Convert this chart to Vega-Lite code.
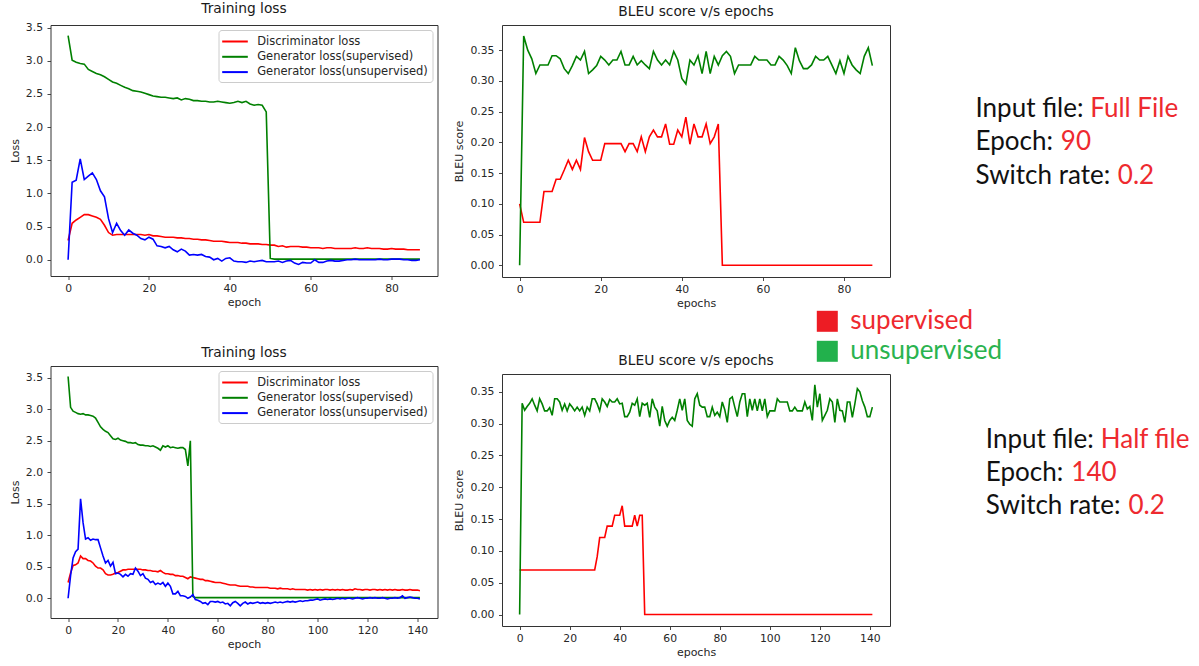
{
"$schema":"https://vega.github.io/schema/vega-lite/v6.json",
"background":"white",
"padding":{"left":8.5,"top":1,"right":0,"bottom":0},
"datasets":{
"tl":[
{"e":0,"d":0.29,"g":3.38,"u":0},{"e":1,"d":0.55,"g":3.01,"u":1.17},{"e":2,"d":0.6,"g":2.98,"u":1.2},{"e":3,"d":0.64,"g":2.96,"u":1.52},{"e":4,"d":0.68,"g":2.95,"u":1.21},{"e":5,"d":0.68,"g":2.87,"u":1.26},{"e":6,"d":0.66,"g":2.84,"u":1.31},{"e":7,"d":0.64,"g":2.81,"u":1.21},{"e":8,"d":0.61,"g":2.79,"u":1.04},{"e":9,"d":0.52,"g":2.76,"u":0.95},
{"e":10,"d":0.41,"g":2.72,"u":0.62},{"e":11,"d":0.37,"g":2.68,"u":0.41},{"e":12,"d":0.38,"g":2.66,"u":0.55},{"e":13,"d":0.38,"g":2.63,"u":0.44},{"e":14,"d":0.38,"g":2.6,"u":0.37},{"e":15,"d":0.38,"g":2.58,"u":0.45},{"e":16,"d":0.38,"g":2.55,"u":0.4},{"e":17,"d":0.38,"g":2.54,"u":0.37},{"e":18,"d":0.38,"g":2.53,"u":0.32},{"e":19,"d":0.37,"g":2.51,"u":0.3},
{"e":20,"d":0.38,"g":2.49,"u":0.34},{"e":21,"d":0.36,"g":2.47,"u":0.31},{"e":22,"d":0.36,"g":2.46,"u":0.21},{"e":23,"d":0.35,"g":2.45,"u":0.2},{"e":24,"d":0.34,"g":2.45,"u":0.18},{"e":25,"d":0.34,"g":2.44,"u":0.2},{"e":26,"d":0.34,"g":2.43,"u":0.15},{"e":27,"d":0.33,"g":2.44,"u":0.12},{"e":28,"d":0.33,"g":2.41,"u":0.16},{"e":29,"d":0.32,"g":2.43,"u":0.13},
{"e":30,"d":0.32,"g":2.42,"u":0.07},{"e":31,"d":0.31,"g":2.4,"u":0.08},{"e":32,"d":0.31,"g":2.4,"u":0.07},{"e":33,"d":0.3,"g":2.39,"u":0.08},{"e":34,"d":0.3,"g":2.39,"u":0.05},{"e":35,"d":0.29,"g":2.38,"u":0.04},{"e":36,"d":0.28,"g":2.38,"u":0},{"e":37,"d":0.28,"g":2.39,"u":0.02},{"e":38,"d":0.28,"g":2.38,"u":-0.02},{"e":39,"d":0.27,"g":2.37,"u":0.02},
{"e":40,"d":0.26,"g":2.36,"u":0.03},{"e":41,"d":0.26,"g":2.37,"u":-0.02},{"e":42,"d":0.26,"g":2.39,"u":-0.03},{"e":43,"d":0.25,"g":2.37,"u":-0.03},{"e":44,"d":0.25,"g":2.39,"u":-0.04},{"e":45,"d":0.24,"g":2.35,"u":-0.02},{"e":46,"d":0.24,"g":2.33,"u":-0.03},{"e":47,"d":0.24,"g":2.34,"u":-0.02},{"e":48,"d":0.23,"g":2.33,"u":-0.01},{"e":49,"d":0.23,"g":2.23,"u":-0.03},
{"e":50,"d":0.22,"g":0.02,"u":-0.03},{"e":51,"d":0.22,"g":0.01,"u":-0.03},{"e":52,"d":0.2,"g":0.01,"u":-0.02},{"e":53,"d":0.21,"g":0.01,"u":-0.04},{"e":54,"d":0.19,"g":0.01,"u":-0.02},{"e":55,"d":0.2,"g":0.01,"u":-0.01},{"e":56,"d":0.2,"g":0.01,"u":-0.05},{"e":57,"d":0.2,"g":0.01,"u":-0.07},{"e":58,"d":0.19,"g":0.01,"u":-0.04},{"e":59,"d":0.19,"g":0.01,"u":-0.05},
{"e":60,"d":0.18,"g":0.01,"u":-0.05},{"e":61,"d":0.18,"g":0.01,"u":0},{"e":62,"d":0.18,"g":0.01,"u":-0.04},{"e":63,"d":0.17,"g":0.01,"u":-0.04},{"e":64,"d":0.18,"g":0.01,"u":-0.02},{"e":65,"d":0.18,"g":0.01,"u":-0.01},{"e":66,"d":0.17,"g":0.01,"u":-0.02},{"e":67,"d":0.17,"g":0.01,"u":-0.02},{"e":68,"d":0.17,"g":0.01,"u":-0.01},{"e":69,"d":0.17,"g":0.01,"u":0},
{"e":70,"d":0.17,"g":0.01,"u":0},{"e":71,"d":0.18,"g":0.01,"u":0.01},{"e":72,"d":0.17,"g":0.01,"u":0},{"e":73,"d":0.17,"g":0.01,"u":0},{"e":74,"d":0.18,"g":0.01,"u":0},{"e":75,"d":0.17,"g":0.01,"u":0},{"e":76,"d":0.17,"g":0.01,"u":0},{"e":77,"d":0.17,"g":0.01,"u":0.01},{"e":78,"d":0.16,"g":0.01,"u":0},{"e":79,"d":0.16,"g":0.01,"u":0},
{"e":80,"d":0.17,"g":0.01,"u":0.01},{"e":81,"d":0.16,"g":0.01,"u":0.01},{"e":82,"d":0.16,"g":0.01,"u":0.01},{"e":83,"d":0.16,"g":0.01,"u":0},{"e":84,"d":0.15,"g":0.01,"u":0},{"e":85,"d":0.15,"g":0.01,"u":-0.01},{"e":86,"d":0.15,"g":0.01,"u":-0.01},{"e":87,"d":0.15,"g":0.01,"u":0}
],
"tr":[
{"e":0,"s":0.1,"u":0},{"e":1,"s":0.07,"u":0.373},{"e":2,"s":0.07,"u":0.35},{"e":3,"s":0.07,"u":0.336},{"e":4,"s":0.07,"u":0.312},{"e":5,"s":0.07,"u":0.326},{"e":6,"s":0.12,"u":0.326},{"e":7,"s":0.12,"u":0.326},{"e":8,"s":0.12,"u":0.341},{"e":9,"s":0.14,"u":0.341},
{"e":10,"s":0.14,"u":0.336},{"e":11,"s":0.155,"u":0.32},{"e":12,"s":0.171,"u":0.312},{"e":13,"s":0.156,"u":0.325},{"e":14,"s":0.171,"u":0.34},{"e":15,"s":0.156,"u":0.334},{"e":16,"s":0.208,"u":0.348},{"e":17,"s":0.185,"u":0.312},{"e":18,"s":0.171,"u":0.318},{"e":19,"s":0.171,"u":0.325},
{"e":20,"s":0.171,"u":0.34},{"e":21,"s":0.198,"u":0.334},{"e":22,"s":0.198,"u":0.326},{"e":23,"s":0.198,"u":0.334},{"e":24,"s":0.198,"u":0.334},{"e":25,"s":0.198,"u":0.348},{"e":26,"s":0.185,"u":0.326},{"e":27,"s":0.198,"u":0.326},{"e":28,"s":0.198,"u":0.34},{"e":29,"s":0.185,"u":0.326},
{"e":30,"s":0.209,"u":0.333},{"e":31,"s":0.185,"u":0.326},{"e":32,"s":0.209,"u":0.32},{"e":33,"s":0.22,"u":0.348},{"e":34,"s":0.209,"u":0.334},{"e":35,"s":0.209,"u":0.326},{"e":36,"s":0.23,"u":0.334},{"e":37,"s":0.197,"u":0.326},{"e":38,"s":0.197,"u":0.348},{"e":39,"s":0.22,"u":0.334},
{"e":40,"s":0.209,"u":0.304},{"e":41,"s":0.241,"u":0.295},{"e":42,"s":0.197,"u":0.334},{"e":43,"s":0.23,"u":0.326},{"e":44,"s":0.209,"u":0.341},{"e":45,"s":0.209,"u":0.312},{"e":46,"s":0.23,"u":0.348},{"e":47,"s":0.198,"u":0.312},{"e":48,"s":0.209,"u":0.34},{"e":49,"s":0.23,"u":0.326},
{"e":50,"s":0,"u":0.341},{"e":51,"s":0,"u":0.348},{"e":52,"s":0,"u":0.34},{"e":53,"s":0,"u":0.312},{"e":54,"s":0,"u":0.326},{"e":55,"s":0,"u":0.326},{"e":56,"s":0,"u":0.326},{"e":57,"s":0,"u":0.326},{"e":58,"s":0,"u":0.34},{"e":59,"s":0,"u":0.334},
{"e":60,"s":0,"u":0.334},{"e":61,"s":0,"u":0.334},{"e":62,"s":0,"u":0.326},{"e":63,"s":0,"u":0.326},{"e":64,"s":0,"u":0.34},{"e":65,"s":0,"u":0.334},{"e":66,"s":0,"u":0.325},{"e":67,"s":0,"u":0.312},{"e":68,"s":0,"u":0.354},{"e":69,"s":0,"u":0.333},
{"e":70,"s":0,"u":0.32},{"e":71,"s":0,"u":0.32},{"e":72,"s":0,"u":0.326},{"e":73,"s":0,"u":0.34},{"e":74,"s":0,"u":0.334},{"e":75,"s":0,"u":0.334},{"e":76,"s":0,"u":0.34},{"e":77,"s":0,"u":0.326},{"e":78,"s":0,"u":0.312},{"e":79,"s":0,"u":0.333},
{"e":80,"s":0,"u":0.312},{"e":81,"s":0,"u":0.34},{"e":82,"s":0,"u":0.326},{"e":83,"s":0,"u":0.318},{"e":84,"s":0,"u":0.312},{"e":85,"s":0,"u":0.34},{"e":86,"s":0,"u":0.354},{"e":87,"s":0,"u":0.325}
],
"bl":[
{"e":0,"d":0.25,"g":3.52,"u":0},{"e":1,"d":0.4,"g":3.03,"u":0.36},{"e":2,"d":0.52,"g":2.97,"u":0.64},{"e":3,"d":0.53,"g":2.95,"u":0.74},{"e":4,"d":0.56,"g":2.93,"u":0.78},{"e":5,"d":0.67,"g":2.92,"u":1.58},{"e":6,"d":0.63,"g":2.93,"u":1.2},{"e":7,"d":0.63,"g":2.91,"u":0.94},{"e":8,"d":0.6,"g":2.91,"u":0.96},{"e":9,"d":0.59,"g":2.9,"u":0.92},
{"e":10,"d":0.56,"g":2.89,"u":0.94},{"e":11,"d":0.51,"g":2.86,"u":0.93},{"e":12,"d":0.48,"g":2.79,"u":0.93},{"e":13,"d":0.48,"g":2.72,"u":0.8},{"e":14,"d":0.45,"g":2.68,"u":0.67},{"e":15,"d":0.39,"g":2.65,"u":0.56},{"e":16,"d":0.37,"g":2.63,"u":0.6},{"e":17,"d":0.37,"g":2.58,"u":0.51},{"e":18,"d":0.38,"g":2.53,"u":0.57},{"e":19,"d":0.4,"g":2.52,"u":0.39},
{"e":20,"d":0.41,"g":2.54,"u":0.4},{"e":21,"d":0.43,"g":2.51,"u":0.38},{"e":22,"d":0.45,"g":2.5,"u":0.34},{"e":23,"d":0.45,"g":2.49,"u":0.38},{"e":24,"d":0.46,"g":2.47,"u":0.35},{"e":25,"d":0.46,"g":2.47,"u":0.39},{"e":26,"d":0.46,"g":2.46,"u":0.38},{"e":27,"d":0.46,"g":2.47,"u":0.48},{"e":28,"d":0.46,"g":2.44,"u":0.43},{"e":29,"d":0.46,"g":2.43,"u":0.36},
{"e":30,"d":0.45,"g":2.43,"u":0.39},{"e":31,"d":0.45,"g":2.42,"u":0.32},{"e":32,"d":0.44,"g":2.42,"u":0.3},{"e":33,"d":0.44,"g":2.41,"u":0.25},{"e":34,"d":0.43,"g":2.42,"u":0.27},{"e":35,"d":0.43,"g":2.4,"u":0.22},{"e":36,"d":0.42,"g":2.38,"u":0.24},{"e":37,"d":0.44,"g":2.35,"u":0.22},{"e":38,"d":0.41,"g":2.42,"u":0.25},{"e":39,"d":0.39,"g":2.4,"u":0.19},
{"e":40,"d":0.39,"g":2.42,"u":0.24},{"e":41,"d":0.38,"g":2.39,"u":0.19},{"e":42,"d":0.38,"g":2.4,"u":0.07},{"e":43,"d":0.36,"g":2.39,"u":0.07},{"e":44,"d":0.36,"g":2.38,"u":0.11},{"e":45,"d":0.35,"g":2.39,"u":0.04},{"e":46,"d":0.35,"g":2.39,"u":0.04},{"e":47,"d":0.33,"g":2.36,"u":0.03},{"e":48,"d":0.31,"g":2.1,"u":0},{"e":49,"d":0.34,"g":2.5,"u":0.02},
{"e":50,"d":0.33,"g":0.03,"u":0.06},{"e":51,"d":0.32,"g":0.01,"u":-0.02},{"e":52,"d":0.31,"g":0.01,"u":-0.03},{"e":53,"d":0.3,"g":0.01,"u":-0.05},{"e":54,"d":0.3,"g":0.01,"u":-0.08},{"e":55,"d":0.28,"g":0.01,"u":-0.07},{"e":56,"d":0.28,"g":0.01,"u":-0.1},{"e":57,"d":0.27,"g":0.01,"u":-0.05},{"e":58,"d":0.26,"g":0.01,"u":-0.05},{"e":59,"d":0.25,"g":0.01,"u":-0.06},
{"e":60,"d":0.25,"g":0.01,"u":-0.05},{"e":61,"d":0.25,"g":0.01,"u":-0.07},{"e":62,"d":0.24,"g":0.01,"u":-0.06},{"e":63,"d":0.23,"g":0.01,"u":-0.09},{"e":64,"d":0.22,"g":0.01,"u":-0.08},{"e":65,"d":0.21,"g":0.01,"u":-0.12},{"e":66,"d":0.21,"g":0.01,"u":-0.07},{"e":67,"d":0.21,"g":0.01,"u":-0.05},{"e":68,"d":0.2,"g":0.01,"u":-0.08},{"e":69,"d":0.19,"g":0.01,"u":-0.12},
{"e":70,"d":0.19,"g":0.01,"u":-0.08},{"e":71,"d":0.19,"g":0.01,"u":-0.06},{"e":72,"d":0.19,"g":0.01,"u":-0.09},{"e":73,"d":0.18,"g":0.01,"u":-0.07},{"e":74,"d":0.18,"g":0.01,"u":-0.08},{"e":75,"d":0.17,"g":0.01,"u":-0.07},{"e":76,"d":0.17,"g":0.01,"u":-0.06},{"e":77,"d":0.17,"g":0.01,"u":-0.08},{"e":78,"d":0.17,"g":0.01,"u":-0.07},{"e":79,"d":0.17,"g":0.01,"u":-0.08},
{"e":80,"d":0.17,"g":0.01,"u":-0.07},{"e":81,"d":0.16,"g":0.01,"u":-0.08},{"e":82,"d":0.16,"g":0.01,"u":-0.07},{"e":83,"d":0.16,"g":0.01,"u":-0.06},{"e":84,"d":0.15,"g":0.01,"u":-0.07},{"e":85,"d":0.16,"g":0.01,"u":-0.06},{"e":86,"d":0.15,"g":0.01,"u":-0.07},{"e":87,"d":0.15,"g":0.01,"u":-0.06},{"e":88,"d":0.15,"g":0.01,"u":-0.05},{"e":89,"d":0.14,"g":0.01,"u":-0.06},
{"e":90,"d":0.15,"g":0.01,"u":-0.05},{"e":91,"d":0.14,"g":0.01,"u":-0.06},{"e":92,"d":0.14,"g":0.01,"u":-0.05},{"e":93,"d":0.14,"g":0.01,"u":-0.04},{"e":94,"d":0.14,"g":0.01,"u":-0.05},{"e":95,"d":0.14,"g":0.01,"u":-0.04},{"e":96,"d":0.13,"g":0.01,"u":-0.04},{"e":97,"d":0.14,"g":0.01,"u":-0.03},{"e":98,"d":0.13,"g":0.01,"u":-0.03},{"e":99,"d":0.14,"g":0.01,"u":-0.02},
{"e":100,"d":0.13,"g":0.01,"u":-0.01},{"e":101,"d":0.14,"g":0.01,"u":-0.03},{"e":102,"d":0.13,"g":0.01,"u":-0.02},{"e":103,"d":0.14,"g":0.01,"u":-0.01},{"e":104,"d":0.14,"g":0.01,"u":-0.02},{"e":105,"d":0.13,"g":0.01,"u":-0.01},{"e":106,"d":0.14,"g":0.01,"u":-0.02},{"e":107,"d":0.13,"g":0.01,"u":-0.01},{"e":108,"d":0.14,"g":0.01,"u":0},{"e":109,"d":0.13,"g":0.01,"u":-0.01},
{"e":110,"d":0.14,"g":0.01,"u":0},{"e":111,"d":0.13,"g":0.01,"u":-0.01},{"e":112,"d":0.13,"g":0.01,"u":0},{"e":113,"d":0.14,"g":0.01,"u":0},{"e":114,"d":0.13,"g":0.01,"u":-0.01},{"e":115,"d":0.15,"g":0.01,"u":0},{"e":116,"d":0.14,"g":0.01,"u":0.01},{"e":117,"d":0.14,"g":0.01,"u":0},{"e":118,"d":0.13,"g":0.01,"u":-0.01},{"e":119,"d":0.14,"g":0.01,"u":0},
{"e":120,"d":0.14,"g":0.01,"u":0},{"e":121,"d":0.13,"g":0.01,"u":0.01},{"e":122,"d":0.14,"g":0.01,"u":0},{"e":123,"d":0.14,"g":0.01,"u":0.01},{"e":124,"d":0.13,"g":0.01,"u":0},{"e":125,"d":0.14,"g":0.01,"u":0},{"e":126,"d":0.13,"g":0.01,"u":0.01},{"e":127,"d":0.14,"g":0.01,"u":0},{"e":128,"d":0.13,"g":0.01,"u":-0.01},{"e":129,"d":0.14,"g":0.01,"u":0},
{"e":130,"d":0.13,"g":0.01,"u":0},{"e":131,"d":0.14,"g":0.01,"u":0.01},{"e":132,"d":0.13,"g":0.01,"u":0},{"e":133,"d":0.13,"g":0.01,"u":0.01},{"e":134,"d":0.14,"g":0.01,"u":0.04},{"e":135,"d":0.13,"g":0.01,"u":0},{"e":136,"d":0.13,"g":0.01,"u":0.01},{"e":137,"d":0.14,"g":0.01,"u":0.02},{"e":138,"d":0.13,"g":0.01,"u":0.01},{"e":139,"d":0.13,"g":0.01,"u":0},
{"e":140,"d":0.13,"g":0.01,"u":0},{"e":141,"d":0.12,"g":0.01,"u":-0.01}
],
"br":[
{"e":0,"s":0.07,"u":0},{"e":1,"s":0.07,"u":0.332},{"e":2,"s":0.07,"u":0.321},{"e":3,"s":0.07,"u":0.327},{"e":4,"s":0.07,"u":0.332},{"e":5,"s":0.07,"u":0.339},{"e":6,"s":0.07,"u":0.329},{"e":7,"s":0.07,"u":0.32},{"e":8,"s":0.07,"u":0.339},{"e":9,"s":0.07,"u":0.331},
{"e":10,"s":0.07,"u":0.32},{"e":11,"s":0.07,"u":0.32},{"e":12,"s":0.07,"u":0.325},{"e":13,"s":0.07,"u":0.313},{"e":14,"s":0.07,"u":0.339},{"e":15,"s":0.07,"u":0.339},{"e":16,"s":0.07,"u":0.334},{"e":17,"s":0.07,"u":0.321},{"e":18,"s":0.07,"u":0.331},{"e":19,"s":0.07,"u":0.32},
{"e":20,"s":0.07,"u":0.331},{"e":21,"s":0.07,"u":0.326},{"e":22,"s":0.07,"u":0.32},{"e":23,"s":0.07,"u":0.326},{"e":24,"s":0.07,"u":0.32},{"e":25,"s":0.07,"u":0.326},{"e":26,"s":0.07,"u":0.313},{"e":27,"s":0.07,"u":0.326},{"e":28,"s":0.07,"u":0.32},{"e":29,"s":0.07,"u":0.339},
{"e":30,"s":0.07,"u":0.339},{"e":31,"s":0.091,"u":0.331},{"e":32,"s":0.121,"u":0.32},{"e":33,"s":0.121,"u":0.339},{"e":34,"s":0.121,"u":0.334},{"e":35,"s":0.139,"u":0.327},{"e":36,"s":0.139,"u":0.338},{"e":37,"s":0.139,"u":0.334},{"e":38,"s":0.156,"u":0.334},{"e":39,"s":0.156,"u":0.339},
{"e":40,"s":0.156,"u":0.331},{"e":41,"s":0.171,"u":0.332},{"e":42,"s":0.139,"u":0.311},{"e":43,"s":0.139,"u":0.311},{"e":44,"s":0.139,"u":0.318},{"e":45,"s":0.139,"u":0.332},{"e":46,"s":0.156,"u":0.329},{"e":47,"s":0.139,"u":0.339},{"e":48,"s":0.156,"u":0.311},{"e":49,"s":0.156,"u":0.332},
{"e":50,"s":0,"u":0.329},{"e":51,"s":0,"u":0.332},{"e":52,"s":0,"u":0.31},{"e":53,"s":0,"u":0.339},{"e":54,"s":0,"u":0.326},{"e":55,"s":0,"u":0.32},{"e":56,"s":0,"u":0.296},{"e":57,"s":0,"u":0.327},{"e":58,"s":0,"u":0.305},{"e":59,"s":0,"u":0.296},
{"e":60,"s":0,"u":0.305},{"e":61,"s":0,"u":0.31},{"e":62,"s":0,"u":0.305},{"e":63,"s":0,"u":0.321},{"e":64,"s":0,"u":0.339},{"e":65,"s":0,"u":0.321},{"e":66,"s":0,"u":0.339},{"e":67,"s":0,"u":0.305},{"e":68,"s":0,"u":0.299},{"e":69,"s":0,"u":0.296},
{"e":70,"s":0,"u":0.339},{"e":71,"s":0,"u":0.347},{"e":72,"s":0,"u":0.329},{"e":73,"s":0,"u":0.326},{"e":74,"s":0,"u":0.326},{"e":75,"s":0,"u":0.311},{"e":76,"s":0,"u":0.311},{"e":77,"s":0,"u":0.326},{"e":78,"s":0,"u":0.313},{"e":79,"s":0,"u":0.318},
{"e":80,"s":0,"u":0.311},{"e":81,"s":0,"u":0.334},{"e":82,"s":0,"u":0.322},{"e":83,"s":0,"u":0.302},{"e":84,"s":0,"u":0.339},{"e":85,"s":0,"u":0.342},{"e":86,"s":0,"u":0.326},{"e":87,"s":0,"u":0.311},{"e":88,"s":0,"u":0.334},{"e":89,"s":0,"u":0.347},
{"e":90,"s":0,"u":0.347},{"e":91,"s":0,"u":0.311},{"e":92,"s":0,"u":0.339},{"e":93,"s":0,"u":0.321},{"e":94,"s":0,"u":0.339},{"e":95,"s":0,"u":0.32},{"e":96,"s":0,"u":0.339},{"e":97,"s":0,"u":0.32},{"e":98,"s":0,"u":0.339},{"e":99,"s":0,"u":0.311},
{"e":100,"s":0,"u":0.32},{"e":101,"s":0,"u":0.32},{"e":102,"s":0,"u":0.32},{"e":103,"s":0,"u":0.339},{"e":104,"s":0,"u":0.334},{"e":105,"s":0,"u":0.334},{"e":106,"s":0,"u":0.334},{"e":107,"s":0,"u":0.334},{"e":108,"s":0,"u":0.32},{"e":109,"s":0,"u":0.32},
{"e":110,"s":0,"u":0.326},{"e":111,"s":0,"u":0.32},{"e":112,"s":0,"u":0.32},{"e":113,"s":0,"u":0.32},{"e":114,"s":0,"u":0.334},{"e":115,"s":0,"u":0.323},{"e":116,"s":0,"u":0.327},{"e":117,"s":0,"u":0.305},{"e":118,"s":0,"u":0.361},{"e":119,"s":0,"u":0.326},
{"e":120,"s":0,"u":0.347},{"e":121,"s":0,"u":0.305},{"e":122,"s":0,"u":0.313},{"e":123,"s":0,"u":0.321},{"e":124,"s":0,"u":0.339},{"e":125,"s":0,"u":0.334},{"e":126,"s":0,"u":0.302},{"e":127,"s":0,"u":0.339},{"e":128,"s":0,"u":0.321},{"e":129,"s":0,"u":0.32},
{"e":130,"s":0,"u":0.302},{"e":131,"s":0,"u":0.334},{"e":132,"s":0,"u":0.334},{"e":133,"s":0,"u":0.31},{"e":134,"s":0,"u":0.331},{"e":135,"s":0,"u":0.355},{"e":136,"s":0,"u":0.35},{"e":137,"s":0,"u":0.336},{"e":138,"s":0,"u":0.326},{"e":139,"s":0,"u":0.311},
{"e":140,"s":0,"u":0.311},{"e":141,"s":0,"u":0.326}
],
"txt":[
{"b":"Full","label":"Input file:","value":"Full File"},
{"b":"Full","label":"Epoch:","value":"90"},
{"b":"Full","label":"Switch rate:","value":"0.2"},
{"b":"Half","label":"Input file:","value":"Half file"},
{"b":"Half","label":"Epoch:","value":"140"},
{"b":"Half","label":"Switch rate:","value":"0.2"}
]
},
"spacing":14.5,
"hconcat":[
{
"vconcat":[
{
"width":387,"height":251,
"title":"Training loss",
"data":{"name":"tl"},
"transform":[{"fold":["d","g","u"],"as":["k","v"]}],
"mark":{"type":"line","strokeWidth":1.6},
"encoding":{
"x":{"field":"e","type":"quantitative","scale":{"domain":[-4.35,91.35],"nice":false,"zero":false},"axis":{"values":[0,20,40,60,80],"title":"epoch"}},
"y":{"field":"v","type":"quantitative","scale":{"domain":[-0.245,3.54],"nice":false,"zero":false},"axis":{"values":[0,0.5,1,1.5,2,2.5,3,3.5],"format":".1f","title":"Loss"}},
"stroke":{"field":"k","type":"nominal","scale":{"domain":["d","g","u"],"range":["#ff0000","#008000","#0000ff"]},
"legend":{"title":null,"orient":"top-right","offset":5,"padding":4,"rowPadding":2.3,"fillColor":"rgba(255,255,255,0.85)","strokeColor":"#cccccc","cornerRadius":3,"symbolType":"M-1.2,0H2.74","symbolSize":169,"symbolStrokeWidth":2,"labelFont":"DejaVu Sans","labelFontSize":11.5,"labelColor":"#262626","labelOffset":19.7,"labelLimit":300,"labelExpr":"datum.label == 'd' ? 'Discriminator loss' : datum.label == 'g' ? 'Generator loss(supervised)' : 'Generator loss(unsupervised)'"}}
}
},
{
"width":387,"height":252,
"title":"Training loss",
"data":{"name":"bl"},
"transform":[{"fold":["d","g","u"],"as":["k","v"]}],
"mark":{"type":"line","strokeWidth":1.6},
"encoding":{
"x":{"field":"e","type":"quantitative","scale":{"domain":[-7.05,148.05],"nice":false,"zero":false},"axis":{"values":[0,20,40,60,80,100,120,140],"title":"epoch"}},
"y":{"field":"v","type":"quantitative","scale":{"domain":[-0.313,3.686],"nice":false,"zero":false},"axis":{"values":[0,0.5,1,1.5,2,2.5,3,3.5],"format":".1f","title":"Loss"}},
"stroke":{"field":"k","type":"nominal","scale":{"domain":["d","g","u"],"range":["#ff0000","#008000","#0000ff"]},
"legend":{"title":null,"orient":"top-right","offset":5,"padding":4,"rowPadding":2.3,"fillColor":"rgba(255,255,255,0.85)","strokeColor":"#cccccc","cornerRadius":3,"symbolType":"M-1.2,0H2.74","symbolSize":169,"symbolStrokeWidth":2,"labelFont":"DejaVu Sans","labelFontSize":11.5,"labelColor":"#262626","labelOffset":19.7,"labelLimit":300,"labelExpr":"datum.label == 'd' ? 'Discriminator loss' : datum.label == 'g' ? 'Generator loss(supervised)' : 'Generator loss(unsupervised)'"}}
}
}
],
"spacing":90,
"bounds":"flush",
"resolve":{"scale":{"stroke":"independent"},"legend":{"stroke":"independent"}}
},
{
"vconcat":[
{
"width":388,"height":252,
"title":"BLEU score v/s epochs",
"data":{"name":"tr"},
"transform":[{"fold":["s","u"],"as":["k","v"]}],
"mark":{"type":"line","strokeWidth":1.6},
"encoding":{
"x":{"field":"e","type":"quantitative","scale":{"domain":[-4.35,91.35],"nice":false,"zero":false},"axis":{"values":[0,20,40,60,80],"title":"epochs"}},
"y":{"field":"v","type":"quantitative","scale":{"domain":[-0.019,0.391],"nice":false,"zero":false},"axis":{"values":[0,0.05,0.1,0.15,0.2,0.25,0.3,0.35],"format":".2f","title":"BLEU score"}},
"color":{"field":"k","type":"nominal","scale":{"domain":["s","u"],"range":["#ff0000","#008000"]},
"legend":{"title":null,"orient":"none","legendX":763.8,"legendY":283.3,"padding":0,"symbolType":"square","symbolSize":441,"symbolStrokeWidth":0,"labelFont":"Lato","labelFontSize":26,"labelOffset":10,"rowPadding":4,"labelLimit":400,"labelExpr":"datum.label == 's' ? 'supervised' : 'unsupervised'",
"encode":{"symbols":{"update":{"fill":{"signal":"datum.value == 's' ? '#ed1c24' : '#22b14c'"},"fillOpacity":{"value":1},"stroke":{"value":"transparent"}}},"labels":{"update":{"fill":{"signal":"datum.value == 's' ? '#ee2a2f' : '#2ab34f'"}}}}}}
}
},
{
"width":388,"height":252,
"title":"BLEU score v/s epochs",
"data":{"name":"br"},
"transform":[{"fold":["s","u"],"as":["k","v"]}],
"mark":{"type":"line","strokeWidth":1.6},
"encoding":{
"x":{"field":"e","type":"quantitative","scale":{"domain":[-7.05,148.05],"nice":false,"zero":false},"axis":{"values":[0,20,40,60,80,100,120,140],"title":"epochs"}},
"y":{"field":"v","type":"quantitative","scale":{"domain":[-0.018,0.378],"nice":false,"zero":false},"axis":{"values":[0,0.05,0.1,0.15,0.2,0.25,0.3,0.35],"format":".2f","title":"BLEU score"}},
"color":{"field":"k","type":"nominal","scale":{"domain":["s","u"],"range":["#ff0000","#008000"]},
"legend":{"title":null,"orient":"none","legendX":763.8,"legendY":283.3,"padding":0,"symbolType":"square","symbolSize":441,"symbolStrokeWidth":0,"labelFont":"Lato","labelFontSize":26,"labelOffset":10,"rowPadding":4,"labelLimit":400,"labelExpr":"datum.label == 's' ? 'supervised' : 'unsupervised'",
"encode":{"symbols":{"update":{"fill":{"signal":"datum.value == 's' ? '#ed1c24' : '#22b14c'"},"fillOpacity":{"value":1},"stroke":{"value":"transparent"}}},"labels":{"update":{"fill":{"signal":"datum.value == 's' ? '#ee2a2f' : '#2ab34f'"}}}}}}
}
}
],
"spacing":97,
"bounds":"flush"
},
{
"width":220,"height":540,
"view":{"stroke":null},
"data":{"name":"txt"},
"resolve":{"scale":{"y":"independent"}},
"layer":[
{
"transform":[{"filter":"datum.b == 'Full'"}],
"mark":{"type":"text","align":"left","baseline":"alphabetic","font":"Lato","fontSize":26,"color":"#111111"},
"encoding":{"x":{"value":70},"y":{"field":"label","type":"nominal","scale":{"type":"point","domain":["Input file:","Epoch:","Switch rate:"],"range":[91.5,159.2],"padding":0},"axis":null},"text":{"field":"label"}}
},
{
"transform":[{"filter":"datum.b == 'Full' && datum.label == 'Input file:'"}],
"mark":{"type":"text","align":"left","baseline":"alphabetic","font":"Lato","fontSize":26,"color":"#ee2a2f"},
"encoding":{"x":{"value":184.7},"y":{"field":"label","type":"nominal","scale":{"type":"point","domain":["Input file:","Epoch:","Switch rate:"],"range":[91.5,159.2],"padding":0},"axis":null},"text":{"field":"value"}}
},
{
"transform":[{"filter":"datum.b == 'Full' && datum.label == 'Epoch:'"}],
"mark":{"type":"text","align":"left","baseline":"alphabetic","font":"Lato","fontSize":26,"color":"#ee2a2f"},
"encoding":{"x":{"value":155.3},"y":{"field":"label","type":"nominal","scale":{"type":"point","domain":["Input file:","Epoch:","Switch rate:"],"range":[91.5,159.2],"padding":0},"axis":null},"text":{"field":"value"}}
},
{
"transform":[{"filter":"datum.b == 'Full' && datum.label == 'Switch rate:'"}],
"mark":{"type":"text","align":"left","baseline":"alphabetic","font":"Lato","fontSize":26,"color":"#ee2a2f"},
"encoding":{"x":{"value":212.3},"y":{"field":"label","type":"nominal","scale":{"type":"point","domain":["Input file:","Epoch:","Switch rate:"],"range":[91.5,159.2],"padding":0},"axis":null},"text":{"field":"value"}}
},
{
"transform":[{"filter":"datum.b == 'Half'"}],
"mark":{"type":"text","align":"left","baseline":"alphabetic","font":"Lato","fontSize":26,"color":"#111111"},
"encoding":{"x":{"value":80.3},"y":{"field":"label","type":"nominal","scale":{"type":"point","domain":["Input file:","Epoch:","Switch rate:"],"range":[422.7,489.3],"padding":0},"axis":null},"text":{"field":"label"}}
},
{
"transform":[{"filter":"datum.b == 'Half' && datum.label == 'Input file:'"}],
"mark":{"type":"text","align":"left","baseline":"alphabetic","font":"Lato","fontSize":26,"color":"#ee2a2f"},
"encoding":{"x":{"value":195.3},"y":{"field":"label","type":"nominal","scale":{"type":"point","domain":["Input file:","Epoch:","Switch rate:"],"range":[422.7,489.3],"padding":0},"axis":null},"text":{"field":"value"}}
},
{
"transform":[{"filter":"datum.b == 'Half' && datum.label == 'Epoch:'"}],
"mark":{"type":"text","align":"left","baseline":"alphabetic","font":"Lato","fontSize":26,"color":"#ee2a2f"},
"encoding":{"x":{"value":165.8},"y":{"field":"label","type":"nominal","scale":{"type":"point","domain":["Input file:","Epoch:","Switch rate:"],"range":[422.7,489.3],"padding":0},"axis":null},"text":{"field":"value"}}
},
{
"transform":[{"filter":"datum.b == 'Half' && datum.label == 'Switch rate:'"}],
"mark":{"type":"text","align":"left","baseline":"alphabetic","font":"Lato","fontSize":26,"color":"#ee2a2f"},
"encoding":{"x":{"value":223},"y":{"field":"label","type":"nominal","scale":{"type":"point","domain":["Input file:","Epoch:","Switch rate:"],"range":[422.7,489.3],"padding":0},"axis":null},"text":{"field":"value"}}
}
]
}
],
"config":{
"font":"DejaVu Sans",
"view":{"stroke":"#333333","strokeWidth":1},
"axis":{"domain":false,"grid":false,"tickSize":3.5,"tickColor":"#333333","tickWidth":0.9,"labelFont":"DejaVu Sans","labelFontSize":10.8,"labelColor":"#262626","titleFont":"DejaVu Sans","titleFontSize":11,"titleFontWeight":"normal","titleColor":"#262626","labelOverlap":false,"labelFlush":false},
"axisX":{"labelPadding":3,"titlePadding":3},
"axisY":{"labelPadding":4.5,"titlePadding":5},
"title":{"font":"DejaVu Sans","fontSize":13.8,"fontWeight":"normal","color":"#1a1a1a","offset":6}
}
}
